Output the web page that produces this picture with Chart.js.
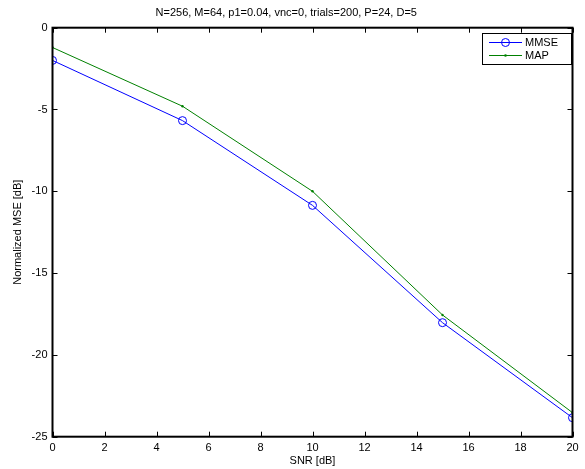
<!DOCTYPE html>
<html>
<head>
<meta charset="utf-8">
<script src="https://cdn.jsdelivr.net/npm/chart.js@4"></script>
<style>
  html, body { margin: 0; padding: 0; background: #fff; }
  #wrap { width: 585px; height: 469px; }
</style>
</head>
<body>
<div id="wrap"><canvas id="myChart"></canvas></div>
<script>
// Chart data
var snrValues = [0, 5, 10, 15, 20];
var mmseValues = [-2.0, -5.68, -10.86, -18.03, -23.84];
var mapValues = [-1.21, -4.8, -10.0, -17.56, -23.53];
var xTicks = [0, 2, 4, 6, 8, 10, 12, 14, 16, 18, 20];
var yTicks = [-25, -20, -15, -10, -5, 0];
var seriesNames = ['MMSE', 'MAP'];
var titleText = 'N=256, M=64, p1=0.04, vnc=0, trials=200, P=24, D=5';

var fontFamily = '"Liberation Sans", Arial, Helvetica, sans-serif';

function toPoints(xs, ys) {
    return xs.map(function (x, i) { return { x: x, y: ys[i] }; });
}

// matlab style box + inward ticks + legend
var matlabBox = {
    id: 'matlabBox',
    afterDraw: function (chart) {
        var ctx = chart.ctx;
        var a = chart.chartArea;
        var xs = chart.scales.x;
        var ys = chart.scales.y;
        ctx.save();
        ctx.strokeStyle = '#000';
        ctx.lineWidth = 1;
        ctx.beginPath();
        xTicks.forEach(function (t) {
            var px = Math.round(xs.getPixelForValue(t)) + 0.5;
            ctx.moveTo(px, a.bottom); ctx.lineTo(px, a.bottom - 5);
            ctx.moveTo(px, a.top); ctx.lineTo(px, a.top + 5);
        });
        yTicks.forEach(function (t) {
            var py = Math.round(ys.getPixelForValue(t)) + 0.5;
            ctx.moveTo(a.left, py); ctx.lineTo(a.left + 5, py);
            ctx.moveTo(a.right, py); ctx.lineTo(a.right - 5, py);
        });
        ctx.stroke();
        ctx.lineWidth = 2;
        ctx.strokeRect(a.left, a.top, a.right - a.left, a.bottom - a.top);

        // legend
        var lx = 482.5, ly = 33.5, lw = 89, lh = 31;
        ctx.fillStyle = '#fff';
        ctx.fillRect(lx, ly, lw, lh);
        ctx.lineWidth = 1;
        ctx.strokeStyle = '#000';
        ctx.strokeRect(lx, ly, lw, lh);
        ctx.font = '11px ' + fontFamily;
        ctx.textBaseline = 'middle';
        chart.data.datasets.forEach(function (ds, i) {
            var rowY = 42.5 + i * 13;
            ctx.strokeStyle = ds.borderColor;
            ctx.lineWidth = 1;
            ctx.beginPath();
            ctx.moveTo(489, rowY); ctx.lineTo(522, rowY);
            ctx.stroke();
            ctx.beginPath();
            if (i == 0) {
                ctx.arc(505.5, rowY, 4, 0, Math.PI * 2);
                ctx.stroke();
            } else {
                ctx.fillStyle = ds.borderColor;
                ctx.arc(505.5, rowY, 1.3, 0, Math.PI * 2);
                ctx.fill();
            }
            ctx.fillStyle = '#000';
            ctx.fillText(ds.label, 525, rowY);
        });
        ctx.restore();
    }
};

const ctx = document.getElementById('myChart');
const myChart = new Chart(ctx, {
    type: 'scatter',
    data: {
        datasets: [{
            label: seriesNames[0],
            data: toPoints(snrValues, mmseValues),
            showLine: true,
            borderColor: '#0000ff',
            backgroundColor: 'rgba(0,0,0,0)',
            borderWidth: 1,
            pointRadius: 4,
            pointBorderWidth: 1,
            pointStyle: 'circle'
        }, {
            label: seriesNames[1],
            data: toPoints(snrValues, mapValues),
            showLine: true,
            borderColor: '#008000',
            backgroundColor: '#008000',
            borderWidth: 1,
            pointRadius: 1.2,
            pointBorderWidth: 0
        }]
    },
    options: {
        responsive: true,
        maintainAspectRatio: false,
        animation: false,
        layout: { padding: { left: 0, right: 12.5, top: 0, bottom: 0 } },
        plugins: {
            legend: { display: false },
            tooltip: { enabled: false },
            title: {
                display: true,
                text: titleText,
                color: '#000',
                font: { family: fontFamily, size: 11, weight: 'normal' },
                padding: { top: 6, bottom: 8.5 }
            }
        },
        scales: {
            x: {
                type: 'linear',
                min: 0,
                max: 20,
                afterBuildTicks: function (s) { s.ticks = xTicks.map(function (v) { return { value: v }; }); },
                afterFit: function (s) { s.height = 32.3; },
                grid: { display: false, drawTicks: false },
                border: { display: false },
                ticks: { color: '#000', padding: 5, font: { family: fontFamily, size: 11 }, maxRotation: 0 },
                title: {
                    display: true,
                    text: 'SNR [dB]',
                    color: '#000',
                    font: { family: fontFamily, size: 11 },
                    padding: { top: 0, bottom: 1 }
                }
            },
            y: {
                type: 'linear',
                min: -25,
                max: 0,
                afterBuildTicks: function (s) { s.ticks = yTicks.map(function (v) { return { value: v }; }); },
                afterFit: function (s) { s.width = 52.5; },
                grid: { display: false, drawTicks: false },
                border: { display: false },
                ticks: { color: '#000', padding: 5, font: { family: fontFamily, size: 11 } },
                title: {
                    display: true,
                    text: 'Normalized MSE [dB]',
                    color: '#000',
                    font: { family: fontFamily, size: 11 },
                    padding: { top: 11, bottom: 0 }
                }
            }
        }
    },
    plugins: [matlabBox]
});
</script>
</body>
</html>
